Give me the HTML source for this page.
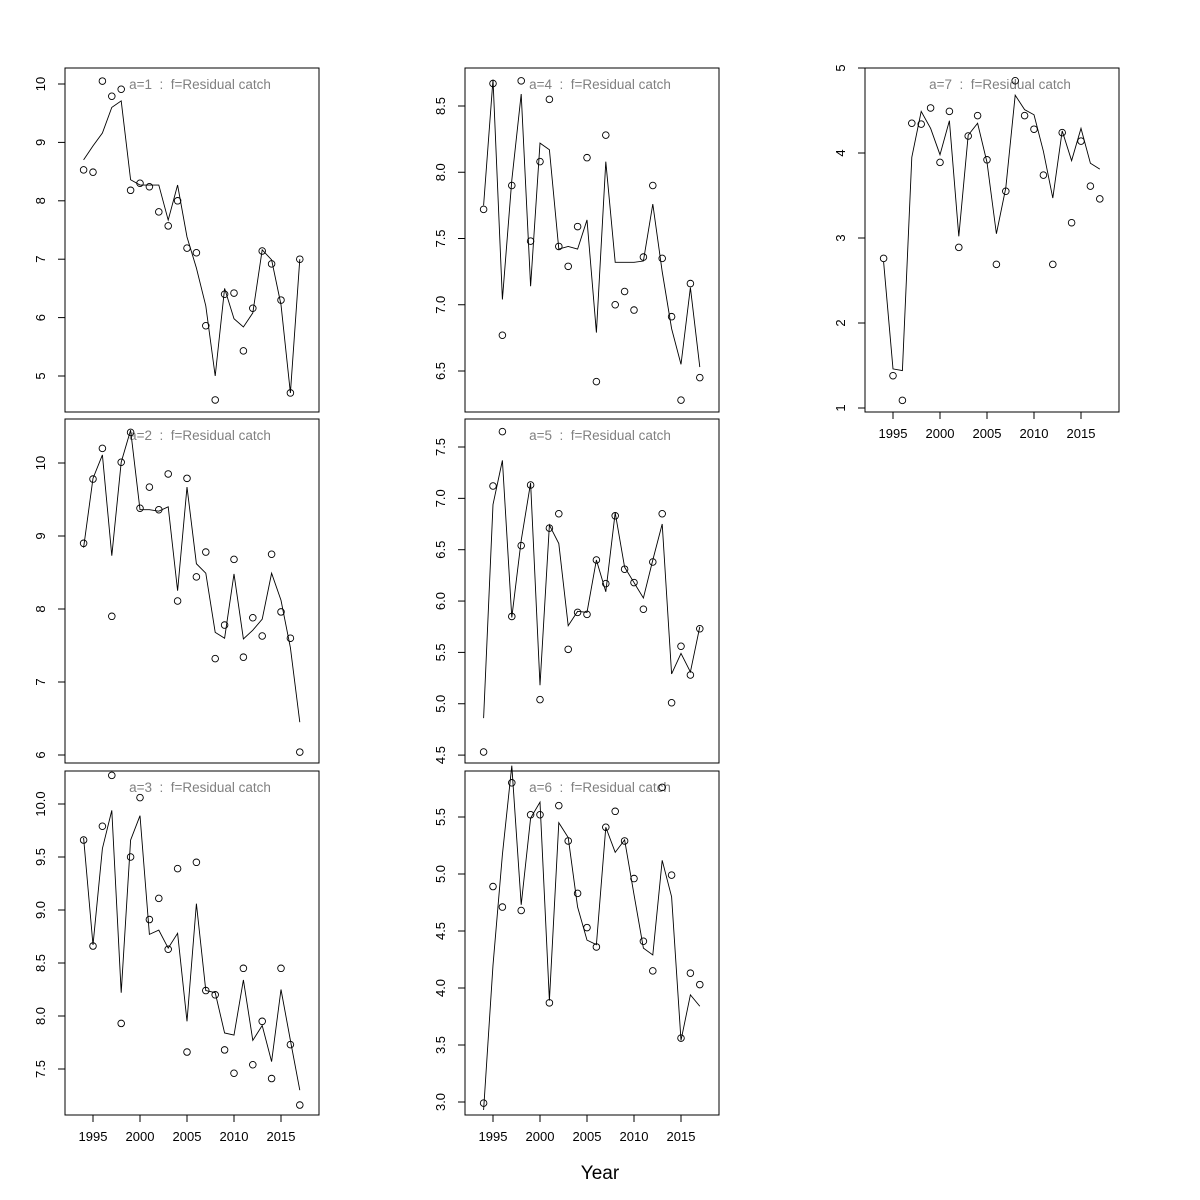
<!DOCTYPE html>
<html><head><meta charset="utf-8"><style>
body{margin:0;background:#fff}
svg{display:block;font-family:"Liberation Sans","DejaVu Sans",sans-serif}
.pre{white-space:pre}
</style></head><body>
<svg id="chart" width="1200" height="1200" viewBox="0 0 1200 1200">
<text x="600" y="1179" text-anchor="middle" font-size="19">Year</text>
</svg>
<script>
const years = [1994,1995,1996,1997,1998,1999,2000,2001,2002,2003,2004,2005,2006,2007,2008,2009,2010,2011,2012,2013,2014,2015,2016,2017];
const xTicks = [1995,2000,2005,2010,2015];
const obsA1 = [8.53,8.49,10.05,9.79,9.91,8.18,8.30,8.24,7.81,7.57,8.0,7.19,7.11,5.86,4.59,6.40,6.42,5.43,6.16,7.14,6.92,6.30,4.71,7.0];
const fitA1 = [8.7,8.94,9.16,9.6,9.71,8.36,8.27,8.27,8.27,7.67,8.27,7.38,6.85,6.2,5.0,6.5,5.98,5.84,6.08,7.16,6.99,6.22,4.71,7.0];
const obsA2 = [8.9,9.78,10.2,7.9,10.01,10.42,9.38,9.67,9.36,9.85,8.11,9.79,8.44,8.78,7.32,7.78,8.68,7.34,7.88,7.63,8.75,7.96,7.6,6.04];
const fitA2 = [8.84,9.79,10.11,8.73,10.01,10.45,9.36,9.36,9.34,9.4,8.25,9.67,8.62,8.49,7.68,7.6,8.48,7.59,7.71,7.86,8.49,8.12,7.47,6.45];
const obsA3 = [9.66,8.66,9.79,10.27,7.93,9.5,10.06,8.91,9.11,8.63,9.39,7.66,9.45,8.24,8.2,7.68,7.46,8.45,7.54,7.95,7.41,8.45,7.73,7.16];
const fitA3 = [9.68,8.67,9.58,9.94,8.22,9.66,9.89,8.77,8.81,8.64,8.78,7.95,9.06,8.24,8.22,7.84,7.82,8.34,7.77,7.91,7.57,8.25,7.77,7.3];
const obsA4 = [7.72,8.67,6.77,7.9,8.69,7.48,8.08,8.55,7.44,7.29,7.59,8.11,6.42,8.28,7.0,7.1,6.96,7.36,7.9,7.35,6.91,6.28,7.16,6.45];
const fitA4 = [7.75,8.7,7.04,7.94,8.59,7.14,8.22,8.17,7.42,7.44,7.42,7.64,6.79,8.08,7.32,7.32,7.32,7.33,7.76,7.25,6.82,6.55,7.13,6.53];
const obsA5 = [4.53,7.12,7.65,5.85,6.54,7.13,5.04,6.71,6.85,5.53,5.89,5.87,6.4,6.17,6.83,6.31,6.18,5.92,6.38,6.85,5.01,5.56,5.28,5.73];
const fitA5 = [4.86,6.94,7.37,5.84,6.59,7.15,5.18,6.74,6.56,5.76,5.9,5.89,6.4,6.09,6.86,6.33,6.18,6.03,6.4,6.75,5.29,5.49,5.31,5.75];
const obsA6 = [2.99,4.89,4.71,5.8,4.68,5.52,5.52,3.87,5.6,5.29,4.83,4.53,4.36,5.41,5.55,5.29,4.96,4.41,4.15,5.76,4.99,3.56,4.13,4.03];
const fitA6 = [2.93,4.2,5.17,5.95,4.73,5.49,5.63,3.89,5.45,5.32,4.71,4.42,4.38,5.41,5.19,5.3,4.82,4.35,4.29,5.12,4.8,3.54,3.94,3.84];
const obsA7 = [2.76,1.38,1.09,4.35,4.34,4.53,3.89,4.49,2.89,4.2,4.44,3.92,2.69,3.55,4.85,4.44,4.28,3.74,2.69,4.24,3.18,4.14,3.61,3.46];
const fitA7 = [2.72,1.46,1.44,3.95,4.49,4.29,3.98,4.38,3.02,4.21,4.35,3.89,3.05,3.59,4.68,4.51,4.45,4.02,3.47,4.26,3.91,4.29,3.88,3.81];
const yTicksA1 = ["5","6","7","8","9","10"];
const yTicksA2 = ["6","7","8","9","10"];
const yTicksA3 = ["7.5","8.0","8.5","9.0","9.5","10.0"];
const yTicksA4 = ["6.5","7.0","7.5","8.0","8.5"];
const yTicksA5 = ["4.5","5.0","5.5","6.0","6.5","7.0","7.5"];
const yTicksA6 = ["3.0","3.5","4.0","4.5","5.0","5.5"];
const yTicksA7 = ["1","2","3","4","5"];

const NS = "http://www.w3.org/2000/svg";
const svg = document.getElementById("chart");
function mk(tag, attrs, parent){const e=document.createElementNS(NS,tag);for(const k in attrs)e.setAttribute(k,attrs[k]);parent.appendChild(e);return e;}

const panels = [
 {id:1,L:65,T:68,obs:obsA1,fit:fitA1,ticks:yTicksA1,v0:10,p0:84,k:58.4,xaxis:false},
 {id:2,L:65,T:419,obs:obsA2,fit:fitA2,ticks:yTicksA2,v0:10,p0:463,k:73,xaxis:false},
 {id:3,L:65,T:771,obs:obsA3,fit:fitA3,ticks:yTicksA3,v0:10,p0:804,k:106,xaxis:true},
 {id:4,L:465,T:68,obs:obsA4,fit:fitA4,ticks:yTicksA4,v0:8.5,p0:106,k:132.5,xaxis:false},
 {id:5,L:465,T:419,obs:obsA5,fit:fitA5,ticks:yTicksA5,v0:7.5,p0:447,k:102.7,xaxis:false},
 {id:6,L:465,T:771,obs:obsA6,fit:fitA6,ticks:yTicksA6,v0:5.5,p0:817,k:114,xaxis:true},
 {id:7,L:865,T:68,obs:obsA7,fit:fitA7,ticks:yTicksA7,v0:5,p0:68,k:85,xaxis:true}
];
const W=254,H=344;
panels.forEach(p=>{
  const g=mk("g",{},svg);
  
  
  const X=yr=>p.L+18.6+(yr-1994)*9.4;
  const Y=v=>p.p0+(p.v0-v)*p.k;
  const fr=mk("rect",{x:p.L,y:p.T,width:W,height:H,fill:"none",stroke:"#000","stroke-width":1},g);
  
  
  p.ticks.forEach(t=>{
    const y=Y(parseFloat(t));
    mk("line",{x1:p.L-7,x2:p.L,y1:y,y2:y,stroke:"#000"},g);
    const tx=mk("text",{x:0,y:0,"font-size":13,"text-anchor":"middle",transform:`translate(${p.L-20},${y}) rotate(-90)`},g);
    
    
    tx.textContent=t;
  });
  mk("line",{x1:p.L,x2:p.L,y1:Y(parseFloat(p.ticks[0])),y2:Y(parseFloat(p.ticks[p.ticks.length-1])),stroke:"#000"},g);
  if(p.xaxis){
    const yb=p.T+H;
    mk("line",{x1:X(xTicks[0]),x2:X(xTicks[xTicks.length-1]),y1:yb,y2:yb,stroke:"#000"},g);
    xTicks.forEach(t=>{
      mk("line",{x1:X(t),x2:X(t),y1:yb,y2:yb+7,stroke:"#000"},g);
      const tx=mk("text",{x:X(t),y:yb+26,"font-size":13,"text-anchor":"middle"},g);
      
      
      tx.textContent=t;
    });
  }
  const ttl=mk("text",{x:p.L+135,y:p.T+21,"font-size":13.5,"text-anchor":"middle",fill:"#808080",class:"pre","xml:space":"preserve"},g);
  
  
  ttl.textContent="a="+p.id+"  :  f=Residual catch";
  const line=mk("polyline",{fill:"none",stroke:"#000","stroke-width":0.9,points:years.map((yr,i)=>X(yr)+","+Y(p.fit[i])).join(" ")},g);
  
  
  years.forEach((yr,i)=>{
    const c=mk("circle",{cx:X(yr),cy:Y(p.obs[i]),r:3.3,fill:"none",stroke:"#000","stroke-width":0.9},g);
    
    
  });
});
</script>
</body></html>
